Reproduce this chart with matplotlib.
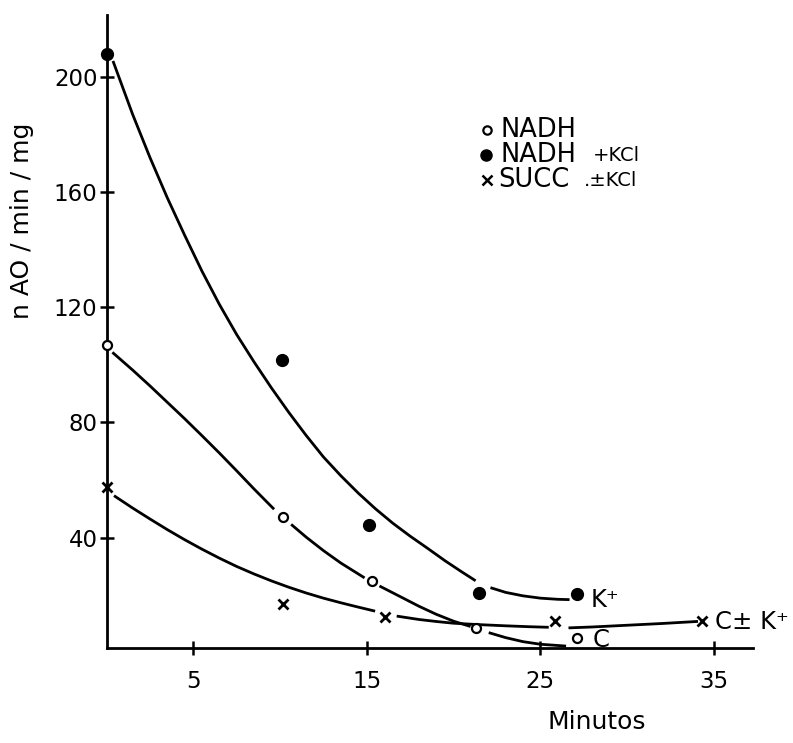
import numpy as np
import matplotlib
matplotlib.use('Agg')
import matplotlib.pyplot as plt

plt.rcParams['font.family'] = ['DejaVu Sans']

# measured points (minutes, nAO/min/mg)
nadh_x = [0, 10.15, 15.3, 21.3, 27.1]
nadh_y = [107, 47.3, 25.1, 8.6, 5.1]
kcl_x = [0, 10.1, 15.15, 21.45, 27.1]
kcl_y = [208, 101.7, 44.4, 20.7, 20.4]
succ_x = [0, 10.15, 16.05, 25.85, 34.3]
succ_y = [57.7, 17, 12.6, 11.2, 11.2]

# hand drawn curves (nan = gap near a point)
nan = np.nan
c_kcl_x = [0.4, 1.5, 2.5, 3.5, 4.5, 5.5, 6.5, 7.5, 8.5, 9.5, 10.5, 11.5, 12.5,
           13.5, 14.5, 15.5, 16.5, 17.5, 18.5, 19.5, 20.5, 21.2, nan,
           22.2, 23, 24, 25, 26, 26.6]
c_kcl_y = [205, 187, 172, 158, 145, 132.5, 121, 110.5, 101, 92, 83.5, 75.5, 68,
           61.5, 55.5, 50, 45, 40.5, 36.3, 32, 28, 25.3, nan,
           22.5, 21, 19.8, 19, 18.6, 18.5]
c_nadh_x = [0.4, 1.5, 2.5, 3.5, 4.5, 5.5, 6.5, 7.5, 8.5, 9.6, nan,
            10.7, 11.5, 12.5, 13.5, 14.8, nan,
            15.8, 17, 18, 19, 20, 20.9, nan,
            22.1, 23, 24, 25, 26.4]
c_nadh_y = [104, 98.2, 92.7, 87, 81.3, 75.4, 69.4, 63.2, 56.9, 50.2, nan,
            44.3, 40.2, 35.5, 31.2, 26.3, nan,
            23, 19.3, 16.2, 13.4, 11, 9.3, nan,
            6.9, 5.3, 3.9, 3.0, 2.4]
c_succ_x = [0.5, 1.5, 2.5, 3.5, 4.5, 5.5, 6.5, 7.5, 8.5, 9.5, 10.5, 11.5, 12.5,
            13.5, 14.5, 15.4, nan,
            16.8, 18, 19, 20, 21.5, 23, 24.3, 25.4, nan,
            26.7, 28, 30, 32, 34]
c_succ_y = [54.3, 50.3, 46.5, 42.8, 39.3, 36, 32.9, 30, 27.4, 25, 22.8, 20.8, 19,
            17.4, 15.9, 14.6, nan,
            12.7, 11.6, 10.9, 10.3, 9.8, 9.4, 9.1, 8.9, nan,
            8.7, 9.0, 9.6, 10.2, 10.9]

xticks = [5, 15, 25, 35]
yticks = [40, 80, 120, 160, 200]

W, H = 793, 743
fig = plt.figure(figsize=(W / 100, H / 100), dpi=100)
ax = fig.add_axes([106.5 / W, 1 - 648 / H, (753 - 106.5) / W, (648 - 15) / H])
ax.set_xlim(0, 37.25)
ax.set_ylim(1.7, 221.4)

lw = 2.0
ax.plot(c_kcl_x, c_kcl_y, color='black', lw=lw)
ax.plot(c_nadh_x, c_nadh_y, color='black', lw=lw)
ax.plot(c_succ_x, c_succ_y, color='black', lw=lw)

ax.plot(kcl_x, kcl_y, 'o', color='black', ms=8.5, clip_on=False, zorder=5)
ax.plot(nadh_x, nadh_y, 'o', mfc='white', mec='black', mew=1.6, ms=6.5,
        clip_on=False, zorder=5)
ax.plot(succ_x, succ_y, 'x', color='black', mew=2.0, ms=7.5, clip_on=False, zorder=5)

for s in ['top', 'right']:
    ax.spines[s].set_visible(False)
for s in ['left', 'bottom']:
    ax.spines[s].set_linewidth(2.0)

ax.set_xticks(xticks)
ax.set_yticks(yticks)
ax.tick_params(axis='both', direction='inout', length=10, width=1.8, labelsize=16.5)
ax.tick_params(axis='x', pad=11)
ax.tick_params(axis='y', pad=1.5)

# labels next to end points
ax.text(27.9, 18.4, 'K⁺', fontsize=17.5, va='center', ha='left')
ax.text(28.0, 4.6, 'C', fontsize=17.5, va='center', ha='left')
ax.text(35.05, 10.8, 'C± K⁺', fontsize=17.5, va='center', ha='left')

# legend written in the plot area
ax.plot([21.9], [181.6], 'o', mfc='white', mec='black', mew=1.6, ms=6, clip_on=False)
ax.plot([21.85], [172.9], 'o', color='black', ms=8, clip_on=False)
ax.plot([21.9], [164.2], 'x', color='black', mew=1.8, ms=6.5, clip_on=False)
ax.text(22.7, 181.6, 'NADH', fontsize=18.5, va='center', ha='left')
ax.text(22.7, 172.9, 'NADH', fontsize=18.5, va='center', ha='left')
ax.text(28.0, 172.6, '+KCl', fontsize=14, va='center', ha='left')
ax.text(22.6, 164.2, 'SUCC', fontsize=18.5, va='center', ha='left')
ax.text(27.5, 163.9, '.±KCl', fontsize=14, va='center', ha='left')

fig.text(22 / W, 1 - 221 / H, 'n AO / min / mg', rotation=90, fontsize=18,
         ha='center', va='center')
fig.text(597 / W, 1 - 722 / H, 'Minutos', fontsize=18, ha='center', va='center')

fig.savefig('out.png', dpi=100)
